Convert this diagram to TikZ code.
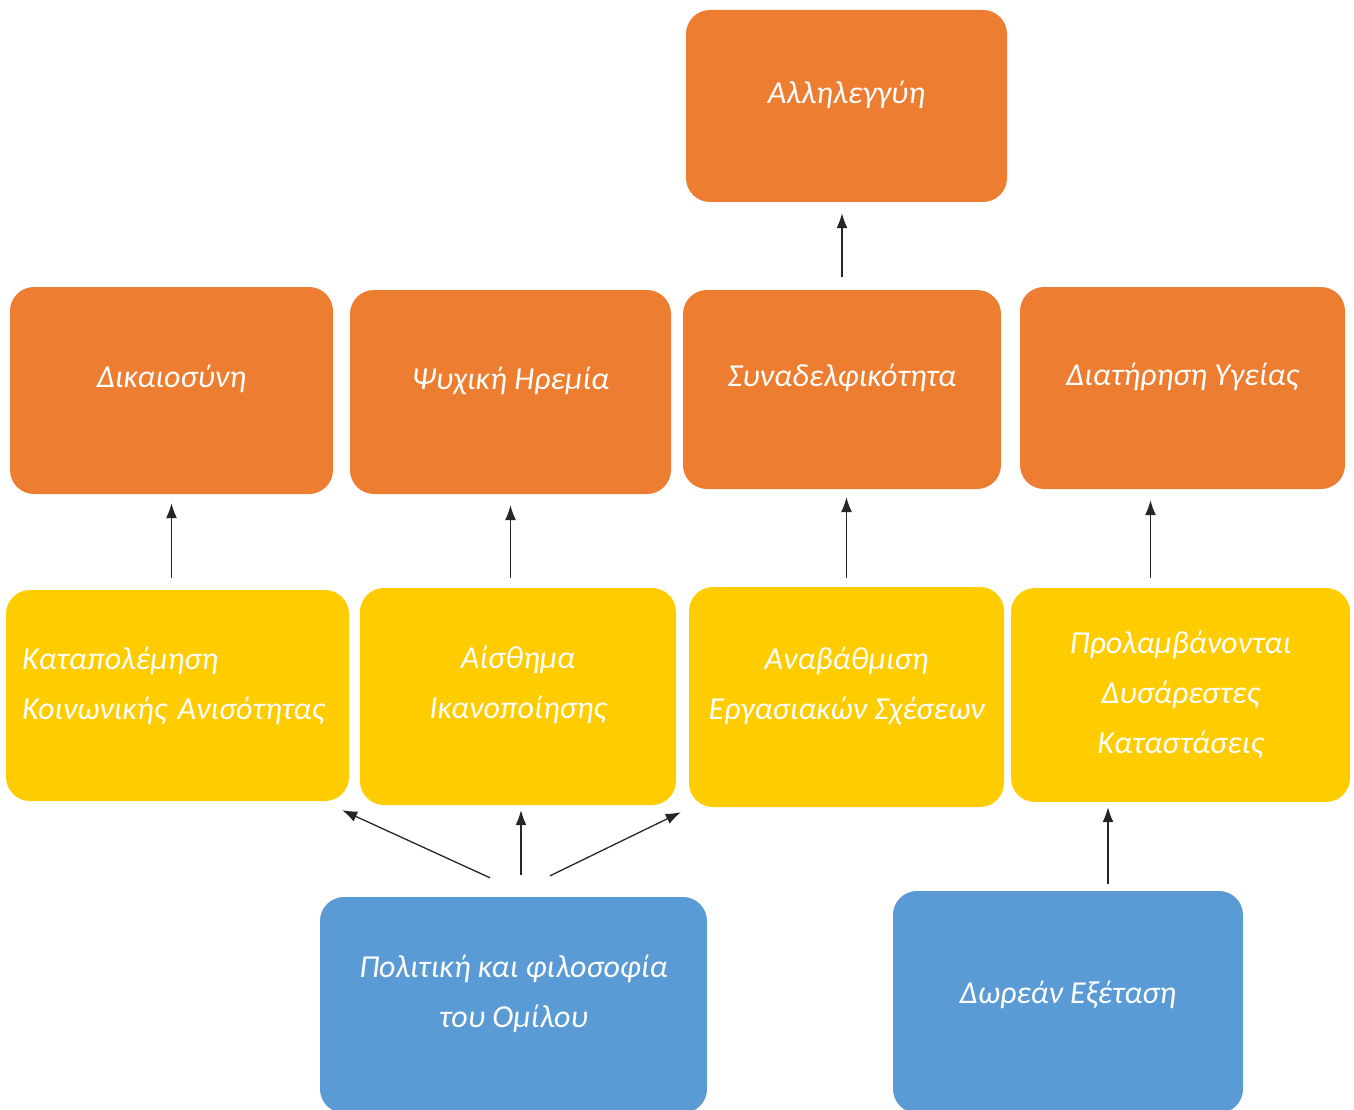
\documentclass[tikz,border=0pt]{standalone}
\usepackage{fontspec}
\setmainfont{Carlito}
\usetikzlibrary{arrows.meta}
\definecolor{boxorange}{HTML}{ED7D31}
\definecolor{boxyellow}{HTML}{FFCC00}
\definecolor{boxblue}{HTML}{5B9BD5}
\tikzset{
  box/.style={rounded corners=24pt, inner sep=0pt, text=white, align=center,
    font=\fontsize{32}{50}\selectfont\itshape, text depth=28pt},
  obox/.style={box, fill=boxorange},
  ybox/.style={box, fill=boxyellow},
  bbox/.style={box, fill=boxblue},
  arr/.style={-{Latex[length=15pt,width=11pt]}, line width=1.3pt, draw=black!85},
}
\begin{document}
\begin{tikzpicture}[x=1pt,y=-1pt]
\useasboundingbox (0,0) rectangle (1354,1110);
\clip (0,0) rectangle (1354,1110);

% top goal
\node[obox, minimum width=321pt, minimum height=192pt] (all) at (846.5,106) {Αλληλεγγύη};

% values
\node[obox, minimum width=323pt, minimum height=207pt] (dik) at (171.5,390.5) {Δικαιοσύνη};
\node[obox, minimum width=321pt, minimum height=204pt] (psy) at (510.5,392) {Ψυχική Ηρεμία};
\node[obox, minimum width=318pt, minimum height=199pt] (syn) at (842,389.5) {Συναδελφικότητα};
\node[obox, minimum width=325pt, minimum height=202pt] (dia) at (1182.5,388) {Διατήρηση Υγείας};

% outcomes
\node[ybox, minimum width=343pt, minimum height=211pt, inner xsep=16pt, text width=311pt, align=left, text depth=74pt] (kat) at (177.5,695.5) {Καταπολέμηση\\Κοινωνικής Ανισότητας};
\node[ybox, minimum width=316pt, minimum height=217pt] (ais) at (518,696.5) {Αίσθημα\\Ικανοποίησης};
\node[ybox, minimum width=315pt, minimum height=220pt] (ana) at (846.5,697) {Αναβάθμιση\\Εργασιακών Σχέσεων};
\node[ybox, minimum width=339pt, minimum height=214pt, text depth=6pt] (pro) at (1180.5,695) {Προλαμβάνονται\\Δυσάρεστες\\Καταστάσεις};

% sources
\node[bbox, minimum width=387pt, minimum height=216pt] (pol) at (513.5,1005) {Πολιτική και φιλοσοφία\\του Ομίλου};
\node[bbox, minimum width=350pt, minimum height=222pt, text depth=20pt] (dwr) at (1068,1002) {Δωρεάν Εξέταση};

% connectors
\draw[arr, shorten <=13pt, shorten >=11pt] (syn.north) -- (syn.north |- all.south);
\draw[arr, shorten <=12pt, shorten >=9pt] (kat.north -| dik.south) -- (dik.south);
\draw[arr, shorten <=10pt, shorten >=11pt] (ais.north -| psy.south) -- (psy.south);
\draw[arr, shorten <=9pt, shorten >=8pt] (ana.north) -- (ana.north |- syn.south);
\draw[arr, shorten <=10pt, shorten >=11pt] ([xshift=-30pt]pro.north) -- ([xshift=-30pt]pro.north |- dia.south);
\draw[arr, shorten <=7pt, shorten >=5pt] ([xshift=40pt]dwr.north) -- ([xshift=40pt]dwr.north |- pro.south);
\draw[arr] ([xshift=-23.5pt,yshift=19pt]pol.north) -- ([xshift=-7pt,yshift=-9pt]kat.south east);
\draw[arr, shorten >=5pt] ([xshift=7.5pt,yshift=22pt]pol.north) -- ([xshift=7.5pt]pol.north |- ais.south);
\draw[arr] ([xshift=36.5pt,yshift=21pt]pol.north) -- ([xshift=-8pt,yshift=-5pt]ana.south west);
\end{tikzpicture}
\end{document}
